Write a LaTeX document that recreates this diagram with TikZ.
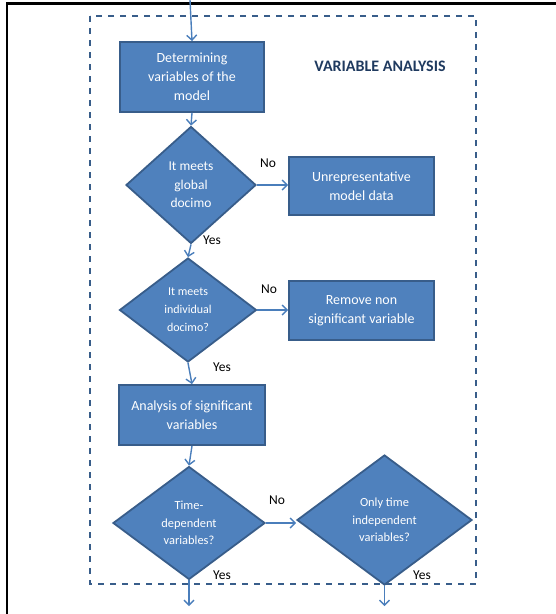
\documentclass[tikz,border=0pt]{standalone}
\usepackage{fontspec}
\setmainfont{Carlito}
\usetikzlibrary{shapes.geometric,arrows.meta}
\definecolor{boxfill}{HTML}{4F81BD}
\definecolor{boxline}{HTML}{385D8A}
\definecolor{flowline}{HTML}{4A7EBB}
\definecolor{titlecol}{HTML}{1F3A5F}
\tikzset{
  stepbox/.style={draw=boxline, line width=1.8pt, fill=boxfill, text=white,
    align=center, inner sep=0pt, font=\fontsize{14}{19}\selectfont},
  decision/.style={diamond, draw=boxline, line width=1.8pt, fill=boxfill, text=white,
    align=center, inner sep=0pt, font=\fontsize{12.4}{17.5}\selectfont},
  flow/.style={draw=flowline, line width=1.4pt, -{Straight Barb[length=5pt,width=10pt,line width=1.4pt]}},
  lbl/.style={font=\fontsize{13.5}{15}\selectfont, text=black, inner sep=0pt},
}
\begin{document}
\begin{tikzpicture}[x=1pt,y=-1pt]
\useasboundingbox (0,0) rectangle (556,614);
% outer frame edges
\draw[black, line width=2.2pt] (7,614) -- (7,3.5) -- (556,3.5);
% dashed group frame
\draw[boxline, line width=1.6pt, dash pattern=on 6pt off 6pt] (90,16) rectangle (476,584);
\node[font=\bfseries\fontsize{16}{18}\selectfont, text=titlecol] (title) at (380,66) {VARIABLE ANALYSIS};

% nodes
\coordinate (start) at (190,0);
\node[stepbox, minimum width=144pt, minimum height=70pt] (det) at (192,77)
  {Determining\\variables of the\\model};
\node[decision, minimum width=130pt, minimum height=117pt, font=\fontsize{13.5}{18.5}\selectfont] (d1) at (191,185)
  {It meets\\global\\docimo};
\node[stepbox, minimum width=145pt, minimum height=58pt] (unrep) at (361.5,186)
  {Unrepresentative\\model data};
\node[decision, minimum width=137pt, minimum height=104pt, font=\fontsize{12}{18}\selectfont] (d2) at (188,310)
  {It meets\\individual\\docimo?};
\node[stepbox, minimum width=145pt, minimum height=59pt] (remove) at (361.5,310.5)
  {Remove non\\significant variable};
\node[stepbox, minimum width=146pt, minimum height=60pt] (anal) at (192,415)
  {Analysis of significant\\variables};
\node[decision, minimum width=152pt, minimum height=113pt] (d3) at (189,523)
  {Time-\\dependent\\variables?};
\node[decision, minimum width=175pt, minimum height=130pt] (d4) at (384.5,520)
  {Only time\\independent\\variables?};
\coordinate (end1) at (189,606);
\coordinate (end2) at (384.5,606);

% connectors
\draw[flow] (start) -- (det.north);
\draw[flow] (det.south) -- (d1.north);
\draw[flow] (d1.east) -- (unrep.west |- d1.east);
\draw[flow] (d1.south) -- (d2.north);
\draw[flow] (d2.east) -- (remove.west |- d2.east);
\draw[flow] (d2.south) -- (anal.north);
\draw[flow] (anal.south) -- (d3.north);
\draw[flow] (d3.east) -- (d4.west |- d3.east);
\draw[flow] (d3.south) -- (end1);
\draw[flow] (d4.south) -- (end2);

% branch labels
\node[lbl] (no1) at (268,163) {No};
\node[lbl] (yes1) at (212,240) {Yes};
\node[lbl] (no2) at (269,289) {No};
\node[lbl] (yes2) at (222,367) {Yes};
\node[lbl] (no3) at (277,500) {No};
\node[lbl] (yes3) at (222,575) {Yes};
\node[lbl] (yes4) at (422,575) {Yes};
\end{tikzpicture}
\end{document}
